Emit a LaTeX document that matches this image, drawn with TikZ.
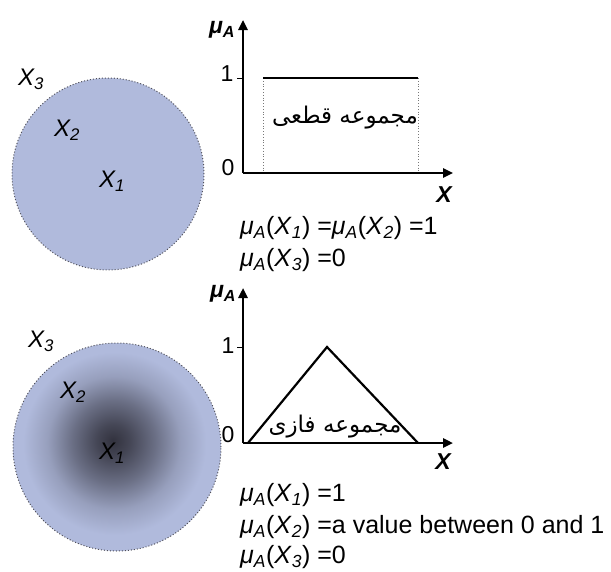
\documentclass[tikz,border=0pt]{standalone}
\usepackage{fontspec}
\setmainfont{Liberation Sans}
\newfontfamily\persianfont[Script=Arabic]{DejaVu Sans}
\TeXXeTstate=1
\usetikzlibrary{arrows.meta}
\definecolor{cSet}{RGB}{176,186,220}
\definecolor{cCore}{RGB}{50,50,62}
\definecolor{cRim}{RGB}{80,80,90}
\definecolor{cGuide}{RGB}{120,120,120}
\newcommand{\muA}{\textit{μ}\textsubscript{\textit{A}}}
\newcommand{\elx}[1]{\textit{X}\textsubscript{\textit{#1}}}
\pgfdeclareradialshading{fuzzyset}{\pgfpoint{-1bp}{1.5bp}}{%
  color(0bp)=(cCore); color(4bp)=(cCore!85!cSet); color(10bp)=(cCore!55!cSet);
  color(16bp)=(cCore!20!cSet); color(22bp)=(cSet); color(50bp)=(cSet)}
\tikzset{
  rim/.style={draw=cRim,dotted,line width=1pt},
  elem/.style={font=\fontsize{24}{28}\selectfont\itshape,inner sep=0pt},
  axis/.style={line width=2.4pt,-{Triangle[length=10pt,width=9pt]}},
  axlbl/.style={font=\fontsize{23}{26}\selectfont\bfseries\itshape,inner sep=0pt},
  ticklbl/.style={font=\fontsize{23}{26}\selectfont,inner sep=0pt},
  memb/.style={line width=2.2pt,line join=miter},
  guide/.style={draw=cGuide,dotted,line width=0.8pt},
  eqline/.style={font=\fontsize{25}{30}\selectfont,inner sep=0pt,anchor=west},
  persian/.style={font=\fontsize{23}{28}\selectfont\persianfont,inner sep=0pt}
}

\begin{document}
\begin{tikzpicture}[x=1pt,y=-1pt]
  \useasboundingbox (0,0) rectangle (611,571);

  % crisp set
  \coordinate (c1) at (108,174);
  \fill[cSet] (c1) circle[radius=96pt];
  \draw[rim] (c1) circle[radius=96pt];
  \node[elem] (x3a) at (31,79) {\elx{3}};
  \node[elem] (x2a) at (67,130) {\elx{2}};
  \node[elem] (x1a) at (112,181) {\elx{1}};

  \coordinate (o1) at (243,173);
  \coordinate (ytop1) at (243,20);
  \coordinate (xend1) at (453,173);
  \draw[line width=0.8pt] (237,78) -- (243,78);
  \draw[guide] (263,78) -- (263,173);
  \draw[guide] (418,78) -- (418,173);
  \draw[memb] (263,78) -- (418,78);
  \draw[axis] (o1) -- (ytop1);
  \draw[axis] (o1) -- (xend1);
  \node[axlbl] (mua) at (222,30) {μ\textsubscript{A}};
  \node[ticklbl] (onea) at (227,74) {1};
  \node[ticklbl] (zeroa) at (228,168) {0};
  \node[axlbl] (xa) at (444,195) {X};
  \node[persian] (crisp) at (345,118) {\beginR مجموعه قطعی\endR};

  \node[eqline] (eqa1) at (240,228) {\muA(\elx{1}) =\muA(\elx{2}) =1};
  \node[eqline] (eqa2) at (240,260) {\muA(\elx{3}) =0};

  % fuzzy set
  \coordinate (c2) at (117,447);
  \shade[shading=fuzzyset] (c2) circle[radius=104pt];
  \draw[rim] (c2) circle[radius=104pt];
  \node[elem] (x3b) at (41,341) {\elx{3}};
  \node[elem] (x2b) at (73,392) {\elx{2}};
  \node[elem] (x1b) at (112,453) {\elx{1}};

  \coordinate (o2) at (243,443);
  \coordinate (ytop2) at (243,288);
  \coordinate (xend2) at (453,443);
  \draw[line width=0.8pt] (237,347) -- (243,347);
  \draw[memb] (248,443) -- (327,347) -- (418,443);
  \draw[axis] (o2) -- (ytop2);
  \draw[axis] (o2) -- (xend2);
  \node[axlbl] (mub) at (223,294) {μ\textsubscript{A}};
  \node[ticklbl] (oneb) at (228,346) {1};
  \node[ticklbl] (zerob) at (228,435) {0};
  \node[axlbl] (xb) at (443,462) {X};
  \node[persian] (fuzzy) at (335,427) {\beginR مجموعه فازی\endR};

  \node[eqline] (eqb1) at (240,495) {\muA(\elx{1}) =1};
  \node[eqline] (eqb2) at (240,527) {\muA(\elx{2}) =a value between 0 and 1};
  \node[eqline] (eqb3) at (240,557) {\muA(\elx{3}) =0};
\end{tikzpicture}
\end{document}
